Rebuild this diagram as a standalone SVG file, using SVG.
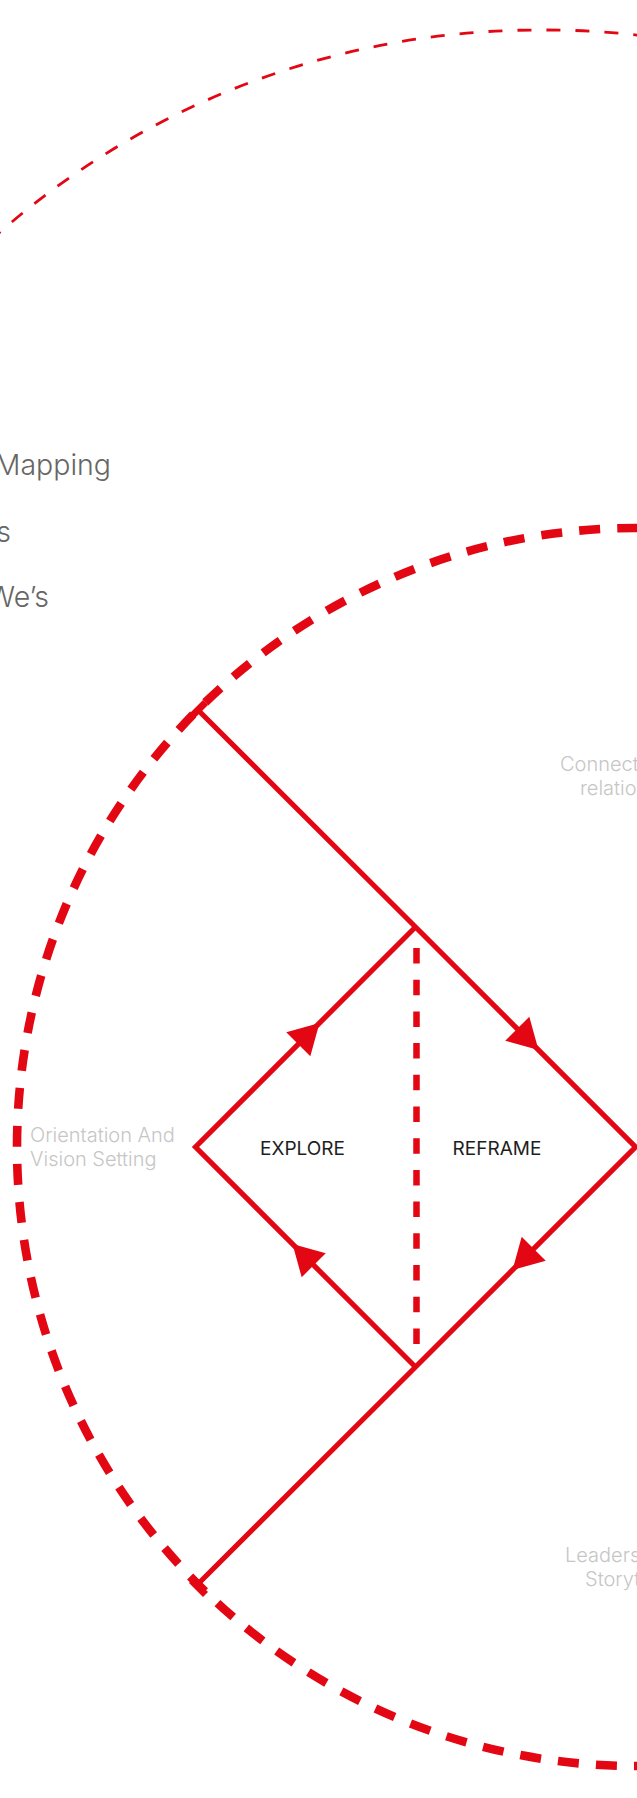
<svg xmlns="http://www.w3.org/2000/svg" width="637" height="1798" viewBox="0 0 637 1798">
  <style>
    .red { stroke: #e30613; fill: none; }
    .solid { stroke-width: 5.2; stroke-linejoin: miter; stroke-miterlimit: 10; }
    .cap { stroke-width: 7; }
    .head { fill: #e30613; stroke: none; }
    .list { font-family: Inter, "Liberation Sans", sans-serif; font-weight: 300; font-size: 28.5px; fill: #666666; }
    .phase { font-family: Inter, "Liberation Sans", sans-serif; font-weight: 400; font-size: 19px; fill: #1e1e1e; }
    .stage { font-family: Inter, "Liberation Sans", sans-serif; font-weight: 300; font-size: 20px; fill: #c6c6c6; }
  </style>
  <defs>
    <path id="arrowhead" d="M0,0 L-30,-17 L-30,17 Z"/>
  </defs>

  <rect x="0" y="0" width="637" height="1798" fill="#ffffff"/>

  <!-- outer thin dashed orbit -->
  <g id="outer-orbit">
    <path class="red" stroke-width="2.8" stroke-dasharray="14 15" d="M-10,241 A818,818 0 0 1 540,30 A818,818 0 0 1 660,38"/>
  </g>

  <!-- stacked list, left-cut -->
  <g id="list">
    <text class="list" x="111" y="475" text-anchor="end">Mapping</text>
    <text class="list" x="11" y="542" text-anchor="end">s</text>
    <text class="list" x="49" y="607" text-anchor="end">We’s</text>
  </g>

  <!-- thick dashed process ring -->
  <g id="ring">
    <circle class="red" cx="636" cy="1147" r="619" stroke-width="8.6" stroke-dasharray="21 17.13"/>
  </g>

  <g id="connectors">
    <!-- long axis through top, right and bottom vertices -->
    <path class="red solid" d="M200,712 L415.5,927 L635.5,1147 L415.5,1367 L200,1582"/>
    <!-- left half of the diamond -->
    <path class="red solid" d="M415.5,927 L195.5,1147 L415.5,1367"/>
    <!-- divider -->
    <line class="red" x1="416.5" y1="948" x2="416.5" y2="1344" stroke-width="6.5" stroke-dasharray="15.5 16.2"/>
    <!-- end caps on the ring -->
    <line class="red cap" x1="191.5" y1="716.5" x2="205.5" y2="702.5"/>
    <line class="red cap" x1="191.5" y1="1580.5" x2="205.5" y2="1594.5"/>
    <!-- flow arrows -->
    <use href="#arrowhead" class="head" transform="translate(319.5,1023) rotate(-45)"/>
    <use href="#arrowhead" class="head" transform="translate(538.5,1050) rotate(45)"/>
    <use href="#arrowhead" class="head" transform="translate(512.5,1270) rotate(135)"/>
    <use href="#arrowhead" class="head" transform="translate(292.5,1244) rotate(-135)"/>
  </g>

  <g id="explore">
    <text class="phase" x="302.5" y="1155" text-anchor="middle">EXPLORE</text>
  </g>
  <g id="reframe">
    <text class="phase" x="497" y="1155" text-anchor="middle">REFRAME</text>
  </g>

  <g id="orientation">
    <text class="stage" x="30" y="1142">Orientation And</text>
    <text class="stage" x="30" y="1166">Vision Setting</text>
  </g>
  <g id="connect">
    <text class="stage" x="560" y="771">Connect</text>
    <text class="stage" x="580" y="795">relatio</text>
  </g>
  <g id="leaders">
    <text class="stage" x="565" y="1562">Leaders</text>
    <text class="stage" x="585" y="1586">Storyt</text>
  </g>
</svg>
